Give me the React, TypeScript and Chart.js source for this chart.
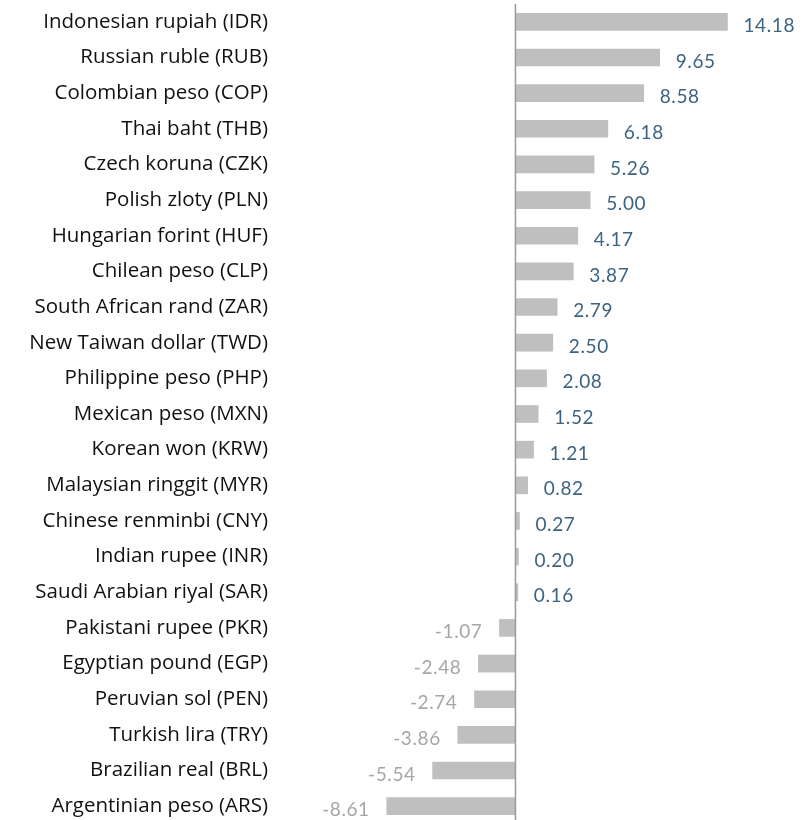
import { useEffect, useRef } from "react";
import { Chart, registerables } from "chart.js";

Chart.register(...registerables);

const currencies = [
  "Indonesian rupiah (IDR)",
  "Russian ruble (RUB)",
  "Colombian peso (COP)",
  "Thai baht (THB)",
  "Czech koruna (CZK)",
  "Polish zloty (PLN)",
  "Hungarian forint (HUF)",
  "Chilean peso (CLP)",
  "South African rand (ZAR)",
  "New Taiwan dollar (TWD)",
  "Philippine peso (PHP)",
  "Mexican peso (MXN)",
  "Korean won (KRW)",
  "Malaysian ringgit (MYR)",
  "Chinese renminbi (CNY)",
  "Indian rupee (INR)",
  "Saudi Arabian riyal (SAR)",
  "Pakistani rupee (PKR)",
  "Egyptian pound (EGP)",
  "Peruvian sol (PEN)",
  "Turkish lira (TRY)",
  "Brazilian real (BRL)",
  "Argentinian peso (ARS)",
];

const changes = [
  14.18, 9.65, 8.58, 6.18, 5.26, 5.0, 4.17, 3.87, 2.79, 2.5, 2.08, 1.52, 1.21,
  0.82, 0.27, 0.2, 0.16, -1.07, -2.48, -2.74, -3.86, -5.54, -8.61,
];

const xMin = -15.75;
const xMax = 19.77;

const POS_COLOR = "#3c6482";
const NEG_COLOR = "#a6a6a6";
const BAR_COLOR = "#bfbfbf";

const valueLabels = {
  id: "valueLabels",
  afterDatasetsDraw(chart: any) {
    const ctx = chart.ctx;
    const meta = chart.getDatasetMeta(0);
    ctx.save();
    ctx.font = "19px Lato";
    try {
      (ctx as any).letterSpacing = "0.6px";
    } catch (e) {}
    ctx.textBaseline = "middle";
    meta.data.forEach((el: any, i: number) => {
      const v = changes[i];
      const txt = v.toFixed(2);
      if (v >= 0) {
        ctx.fillStyle = POS_COLOR;
        ctx.textAlign = "left";
        ctx.fillText(txt, el.x + 16, el.y + 4);
      } else {
        ctx.fillStyle = NEG_COLOR;
        ctx.textAlign = "right";
        ctx.fillText(txt, el.x - 17, el.y + 4);
      }
    });
    ctx.restore();
  },
};

const zeroLine = {
  id: "zeroLine",
  afterDatasetsDraw(chart: any) {
    const ctx = chart.ctx;
    const x = chart.scales.x.getPixelForValue(0);
    const { top, bottom } = chart.chartArea;
    ctx.save();
    ctx.strokeStyle = "#9a9a9a";
    ctx.lineWidth = 1.5;
    ctx.beginPath();
    ctx.moveTo(x, top);
    ctx.lineTo(x, bottom);
    ctx.stroke();
    ctx.restore();
  },
};

export default function App() {
  const ref = useRef<HTMLCanvasElement | null>(null);

  useEffect(() => {
    document.body.style.margin = "0";
    if (!ref.current) return;
    const chart = new Chart(ref.current, {
      type: "bar",
      data: {
        labels: currencies,
        datasets: [
          {
            data: changes,
            backgroundColor: BAR_COLOR,
            borderWidth: 0,
            barThickness: 17,
          },
        ],
      },
      options: {
        indexAxis: "y",
        animation: false,
        responsive: true,
        maintainAspectRatio: false,
        layout: { padding: { top: 4, right: 0, bottom: 0, left: 0 } },
        plugins: {
          legend: { display: false },
          tooltip: { enabled: false },
        },
        scales: {
          x: {
            display: false,
            min: xMin,
            max: xMax,
          },
          y: {
            grid: { display: false, drawTicks: false },
            border: { display: false },
            ticks: {
              color: "#111",
              padding: 12,
              font: { family: "'Open Sans'", size: 20.5 },
            },
            afterFit(scale: any) {
              scale.width = 280;
              scale.paddingTop = 0;
              scale.paddingBottom = 0;
            },
          },
        },
      },
      plugins: [zeroLine, valueLabels],
    });
    return () => chart.destroy();
  }, []);

  return (
    <div style={{ position: "relative", width: 811, height: 824 }}>
      <canvas ref={ref} />
    </div>
  );
}
